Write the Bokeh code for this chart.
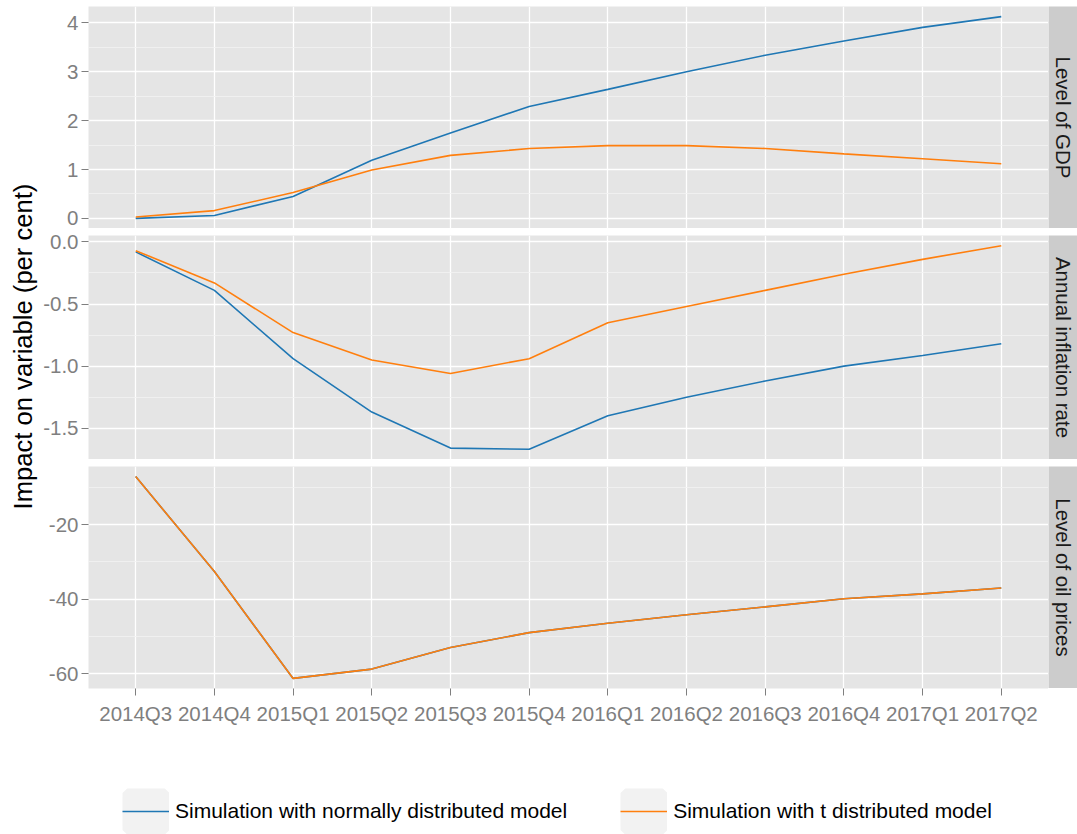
import math
from bokeh.plotting import figure
from bokeh.models import (FactorRange, Range1d, SingleIntervalTicker, PrintfTickFormatter,
                          Legend, LegendItem, Label)
from bokeh.layouts import row, column
from bokeh.embed import file_html
from bokeh.resources import INLINE

# ---------------- data ----------------
quarters = ["2014Q3", "2014Q4", "2015Q1", "2015Q2", "2015Q3", "2015Q4",
            "2016Q1", "2016Q2", "2016Q3", "2016Q4", "2017Q1", "2017Q2"]

gdp_normal = [0.00, 0.06, 0.45, 1.19, 1.75, 2.29, 2.64, 3.00, 3.34, 3.63, 3.91, 4.13]
gdp_t = [0.03, 0.16, 0.53, 0.99, 1.29, 1.43, 1.49, 1.49, 1.43, 1.32, 1.22, 1.12]

infl_normal = [-0.08, -0.39, -0.94, -1.37, -1.66, -1.67, -1.40, -1.25, -1.12, -1.00, -0.915, -0.82]
infl_t = [-0.07, -0.33, -0.73, -0.95, -1.06, -0.94, -0.65, -0.52, -0.39, -0.26, -0.14, -0.03]

oil_normal = [-7.1, -32.6, -61.3, -58.8, -53.0, -49.0, -46.5, -44.2, -42.1, -39.9, -38.6, -37.0]
oil_t = [-7.1, -32.6, -61.3, -58.8, -53.0, -49.0, -46.5, -44.2, -42.1, -39.9, -38.6, -37.0]

panel_titles = ["Level of GDP", "Annual inflation rate", "Level of oil prices"]
series_names = ["Simulation with normally distributed model",
                "Simulation with t distributed model"]
y_title = "Impact on variable (per cent)"

# ---------------- style ----------------
FONT = "Liberation Sans"
BLUE = "#1F77B4"
ORANGE = "#FF7F0E"
PANEL_BG = "#E5E5E5"
STRIP_BG = "#CCCCCC"
TICK_COL = "#7F7F7F"
TITLE_W = 40
LEFT = 48
FRAME_W = 960
STRIP_W = 29
TOP_H = 728
LEG_H = 106

x_range = FactorRange(*quarters, range_padding=1/60, range_padding_units="percent")


def make_panel(normal, t, interval, fmt, fh, top, bottom, show_x):
    lo = min(min(normal), min(t))
    hi = max(max(normal), max(t))
    pad = (hi - lo) * 0.05
    p = figure(x_range=x_range, y_range=Range1d(lo - pad, hi + pad),
               frame_width=FRAME_W, frame_height=fh,
               min_border_left=LEFT, min_border_right=0,
               min_border_top=top, min_border_bottom=bottom,
               output_backend="svg", toolbar_location=None,
               background_fill_color=PANEL_BG, border_fill_color="white")
    p.outline_line_color = None
    ticker = SingleIntervalTicker(interval=interval, num_minor_ticks=2)
    p.yaxis.ticker = ticker
    p.ygrid.ticker = ticker
    p.yaxis.formatter = PrintfTickFormatter(format=fmt)
    for ax in (p.xaxis[0], p.yaxis[0]):
        ax.axis_line_color = None
        ax.major_tick_line_color = TICK_COL
        ax.major_tick_line_width = 1
        ax.major_tick_in = 0
        ax.major_tick_out = 7
        ax.minor_tick_in = 0
        ax.minor_tick_out = 0
        ax.major_label_text_font = FONT
        ax.major_label_text_font_size = "20.5px"
        ax.major_label_text_color = TICK_COL
    p.yaxis.major_label_standoff = 3
    p.xaxis.major_label_standoff = 6
    p.xaxis.visible = show_x
    p.xgrid.grid_line_color = "white"
    p.xgrid.grid_line_width = 1.3
    p.ygrid.grid_line_color = "white"
    p.ygrid.grid_line_width = 1.3
    p.ygrid.minor_grid_line_color = "#F2F2F2"
    p.ygrid.minor_grid_line_width = 0.8
    p.line(x=quarters, y=normal, line_color=BLUE, line_width=1.6)
    p.line(x=quarters, y=t, line_color=ORANGE, line_width=1.6)
    return p


def make_strip(text, fh, top):
    s = figure(x_range=Range1d(0, 1), y_range=Range1d(0, 1),
               frame_width=STRIP_W, frame_height=fh,
               min_border_left=0, min_border_right=0,
               min_border_top=top, min_border_bottom=0,
               x_axis_location=None, y_axis_location=None,
               output_backend="svg", toolbar_location=None,
               background_fill_color=STRIP_BG, border_fill_color="white")
    s.outline_line_color = None
    s.grid.visible = False
    s.add_layout(Label(x=0.5, y=0.5, text=text, angle=-math.pi / 2,
                       text_align="center", text_baseline="middle",
                       text_font=FONT, text_font_size="20.5px",
                       text_color="#1A1A1A"))
    return s


p1 = make_panel(gdp_normal, gdp_t, 1, "%d", 222, 6, 0, False)
p2 = make_panel(infl_normal, infl_t, 0.5, "%.1f", 224, 7, 0, False)
p3 = make_panel(oil_normal, oil_t, 20, "%d", 222, 7, 40, True)

s1 = make_strip(panel_titles[0], 222, 6)
s2 = make_strip(panel_titles[1], 224, 7)
s3 = make_strip(panel_titles[2], 222, 7)

# y-axis title column spanning all panels
tf = figure(x_range=Range1d(0, TITLE_W), y_range=Range1d(0, TOP_H),
            frame_width=TITLE_W, frame_height=TOP_H, min_border=0,
            x_axis_location=None, y_axis_location=None,
            output_backend="svg", toolbar_location=None,
            background_fill_color="white", border_fill_color="white")
tf.outline_line_color = None
tf.grid.visible = False
tf.add_layout(Label(x=22, y=TOP_H - 346, text=y_title, angle=math.pi / 2,
                    text_align="center", text_baseline="middle",
                    text_font=FONT, text_font_size="25.6px", text_color="black"))

# legend strip at the bottom
lf = figure(x_range=x_range, y_range=Range1d(0, 1),
            frame_width=TITLE_W + LEFT + FRAME_W + STRIP_W, frame_height=LEG_H,
            min_border=0, x_axis_location=None, y_axis_location=None,
            output_backend="svg", toolbar_location=None,
            background_fill_color="white", border_fill_color="white")
lf.outline_line_color = None
lf.grid.visible = False
# series lines for the legend keys (their values lie outside this strip's y range)
leg_n = lf.line(x=quarters, y=oil_normal, line_color=BLUE, line_width=1.6)
leg_t = lf.line(x=quarters, y=oil_t, line_color=ORANGE, line_width=1.6)
key_bg = lf.rect(x=[quarters[0]], y=[float("nan")], width=0.5, height=0.5,
                 fill_color="#F2F2F2", line_color="#F2F2F2", line_width=9.4)

legend = Legend(items=[LegendItem(label=series_names[0], renderers=[key_bg, leg_n]),
                       LegendItem(label=series_names[1], renderers=[key_bg, leg_t])],
                location=(122, 0), orientation="horizontal",
                glyph_width=47, glyph_height=46, label_standoff=6, spacing=53,
                padding=0, margin=0, border_line_color=None,
                background_fill_alpha=0, label_height=46,
                label_text_font=FONT, label_text_font_size="21px",
                label_text_color="black")
lf.add_layout(legend)

layout = column(row(tf, column(row(p1, s1), row(p2, s2), row(p3, s3))), lf)

with open("out.html", "w") as f:
    f.write(file_html(layout, INLINE))
